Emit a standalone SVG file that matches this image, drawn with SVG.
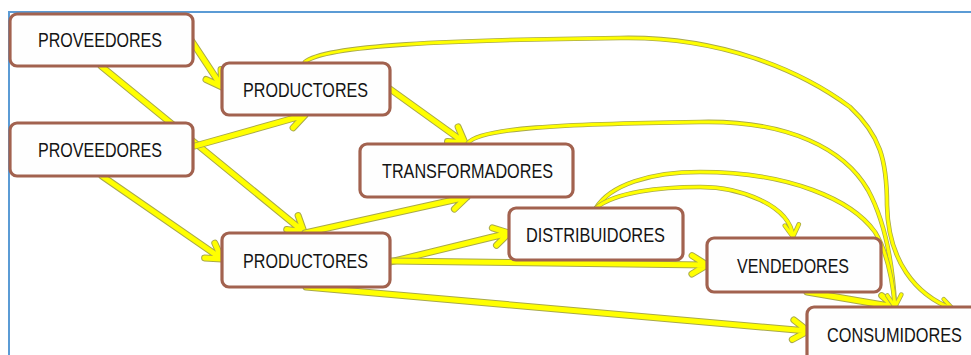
<svg xmlns="http://www.w3.org/2000/svg" xmlns:xlink="http://www.w3.org/1999/xlink" width="971" height="355" viewBox="0 0 971 355">
<style>
.node rect{fill:#fefefe;stroke:#a2624f;stroke-width:3.2}
.node text{font-family:"Liberation Sans",Arial,sans-serif;font-size:21px;fill:#141414}
.ow{fill:none;stroke:#a9a94a;stroke-width:7;stroke-linecap:round;stroke-linejoin:round}
.w{fill:none;stroke:#ffff00;stroke-width:5;stroke-linecap:round;stroke-linejoin:round}
.ot{fill:none;stroke:#a9a94a;stroke-width:4.6;stroke-linecap:round;stroke-linejoin:round}
.t{fill:none;stroke:#ffff00;stroke-width:3;stroke-linecap:round;stroke-linejoin:round}
</style>
<defs>
<path id="c1" d="M191,40 L222,87 M206,79.5 L222,87 L221,69.5"/>
<path id="c2" d="M101,66 L304,232 M286.7,229.5 L304,232 L298.1,215.5"/>
<path id="c3" d="M195,146 L305,115 M293.1,127.8 L305,115 L288.1,110.4"/>
<path id="c4" d="M102,176 L222,259 M204.6,257.9 L222,259 L214.8,243.1"/>
<path id="c5" d="M390,89 L465,143 M447.5,141.5 L465,143 L458.1,126.9"/>
<path id="c6" d="M305,233 L467,197 M454.4,209.1 L467,197 L450.4,191.5"/>
<path id="c7" d="M390,262 L509,233 M496.5,245.3 L509,233 L492.3,227.9"/>
<path id="c8" d="M390,261 L707,265 M691.9,274 L707,265 L692.1,255.6"/>
<path id="c9" d="M306,287 L808,331 M792.3,339.5 L808,331 L793.9,320"/>
<path id="c10" d="M807,292 L895,307 M878.7,313.4 L895,307 L881.7,295.6"/>
<path id="c11" d="M305,62 C325,45 450,40 620,38 C720,36 800,70 850,107 C880,135 887,160 887,205 C888,260 915,295 953,309 M939.6,310.4 L953,309 L943.8,299.2"/>
<path id="c12" d="M468,143 C480,128 560,124 700,122 C790,120 845,150 868,190 C887,225 893,270 895,306"/>
<path id="c13" d="M596,208 C610,185 650,172 700,172 C790,172 852,200 875,232 C889,255 893,285 895,306 M887.3,295.4 L895,307 L901.3,294.6"/>
<path id="c14" d="M596,208 C615,192 660,187 700,187 C740,187 790,205 793,237 M784.8,225.7 L793,237 L798.8,224.3"/>
</defs>
<rect x="0" y="0" width="971" height="355" fill="#ffffff"/>
<path d="M9,355 L9,12 L971,12" fill="none" stroke="#5b9bd5" stroke-width="2"/>
<g id="connectors">
<use xlink:href="#c1" class="ow"/><use xlink:href="#c1" class="w"/>
<use xlink:href="#c2" class="ow"/><use xlink:href="#c2" class="w"/>
<use xlink:href="#c3" class="ow"/><use xlink:href="#c3" class="w"/>
<use xlink:href="#c4" class="ow"/><use xlink:href="#c4" class="w"/>
<use xlink:href="#c5" class="ow"/><use xlink:href="#c5" class="w"/>
<use xlink:href="#c6" class="ow"/><use xlink:href="#c6" class="w"/>
<use xlink:href="#c7" class="ow"/><use xlink:href="#c7" class="w"/>
<use xlink:href="#c8" class="ow"/><use xlink:href="#c8" class="w"/>
<use xlink:href="#c9" class="ow"/><use xlink:href="#c9" class="w"/>
<use xlink:href="#c10" class="ow"/><use xlink:href="#c10" class="w"/>
<use xlink:href="#c11" class="ot"/><use xlink:href="#c11" class="t"/>
<use xlink:href="#c12" class="ot"/><use xlink:href="#c12" class="t"/>
<use xlink:href="#c13" class="ot"/><use xlink:href="#c13" class="t"/>
<use xlink:href="#c14" class="ot"/><use xlink:href="#c14" class="t"/>
</g>
<g id="proveedores1" class="node"><rect x="10" y="14" width="183" height="52" rx="7"/><text x="38" y="47" textLength="124" lengthAdjust="spacingAndGlyphs">PROVEEDORES</text></g>
<g id="productores1" class="node"><rect x="222" y="63" width="168" height="52" rx="7"/><text x="243" y="97" textLength="125" lengthAdjust="spacingAndGlyphs">PRODUCTORES</text></g>
<g id="proveedores2" class="node"><rect x="10" y="123" width="183" height="53" rx="7"/><text x="38" y="157" textLength="124" lengthAdjust="spacingAndGlyphs">PROVEEDORES</text></g>
<g id="transformadores" class="node"><rect x="360" y="144" width="213" height="53" rx="7"/><text x="382" y="178" textLength="171" lengthAdjust="spacingAndGlyphs">TRANSFORMADORES</text></g>
<g id="distribuidores" class="node"><rect x="509" y="208" width="174" height="52" rx="7"/><text x="526" y="242" textLength="139" lengthAdjust="spacingAndGlyphs">DISTRIBUIDORES</text></g>
<g id="productores2" class="node"><rect x="222" y="233" width="168" height="54" rx="7"/><text x="243" y="268" textLength="125" lengthAdjust="spacingAndGlyphs">PRODUCTORES</text></g>
<g id="vendedores" class="node"><rect x="707" y="238" width="174" height="54" rx="7"/><text x="737" y="273" textLength="112" lengthAdjust="spacingAndGlyphs">VENDEDORES</text></g>
<g id="consumidores" class="node"><rect x="807" y="307" width="180" height="60" rx="7"/><text x="827" y="342" textLength="135" lengthAdjust="spacingAndGlyphs">CONSUMIDORES</text></g>
</svg>
